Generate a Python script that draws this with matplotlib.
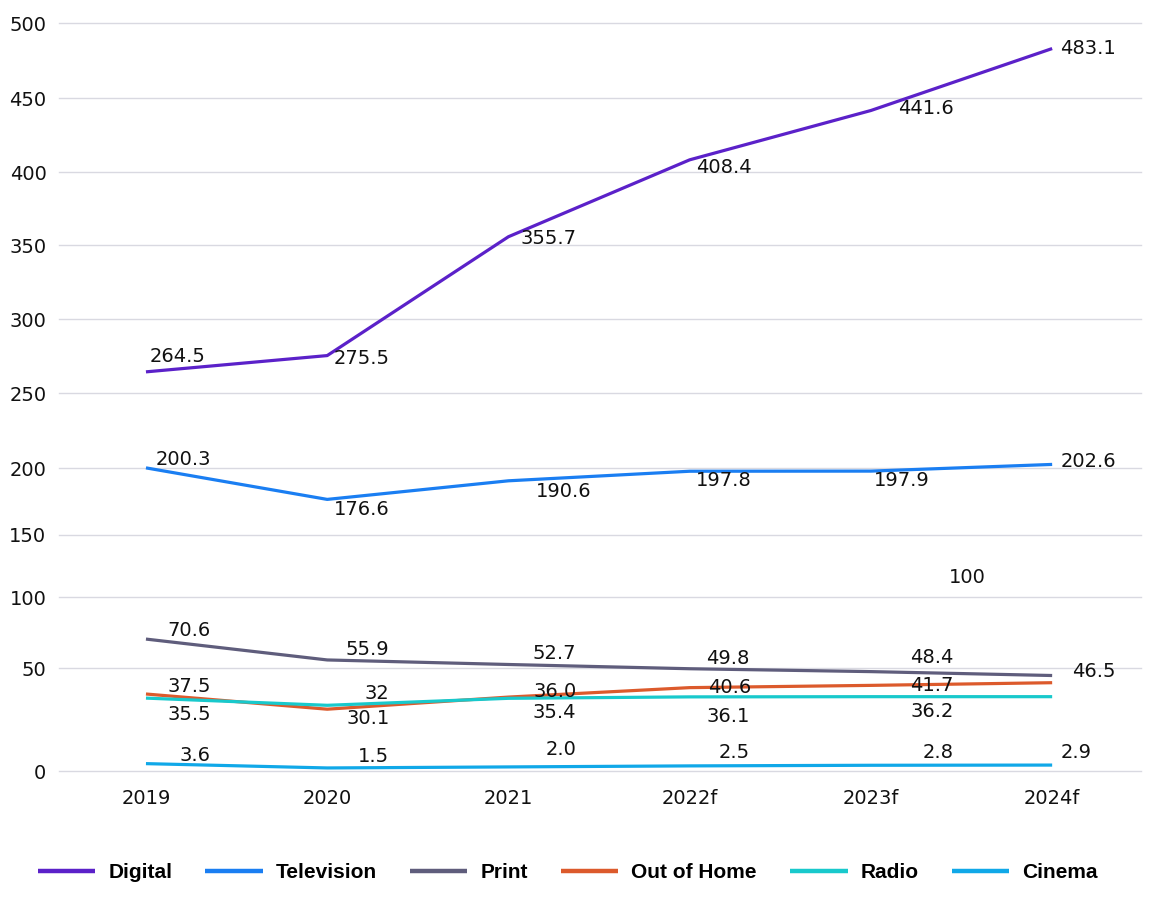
import numpy as np
import matplotlib
matplotlib.use("Agg")
import matplotlib.pyplot as plt

# data
years = ["2019", "2020", "2021", "2022f", "2023f", "2024f"]
digital = [264.5, 275.5, 355.7, 408.4, 441.6, 483.1]
television = [200.3, 176.6, 190.6, 197.8, 197.9, 202.6]
print_media = [70.6, 55.9, 52.7, 49.8, 48.4, 46.5]
out_of_home = [37.5, 30.1, 36.0, 40.6, 41.7, 43.0]
radio = [35.5, 32.0, 35.4, 36.1, 36.2, 36.2]
cinema = [3.6, 1.5, 2.0, 2.5, 2.8, 2.9]

# which points carry a value label (text as printed in the chart)
digital_labels = ["264.5", "275.5", "355.7", "408.4", "441.6", "483.1"]
television_labels = ["200.3", "176.6", "190.6", "197.8", "197.9", "202.6"]
print_labels = ["70.6", "55.9", "52.7", "49.8", "48.4", "46.5"]
ooh_labels = ["37.5", "30.1", "36.0", "40.6", "41.7", None]
radio_labels = ["35.5", "32", "35.4", "36.1", "36.2", None]
cinema_labels = ["3.6", "1.5", "2.0", "2.5", "2.8", "2.9"]

y_ticks = [0, 50, 100, 150, 200, 250, 300, 350, 400, 450, 500]

# the value axis in the original is not evenly spaced below 200;
# tick spacing (in pixels)
tick_space = [0, 102.7, 173.7, 236.3, 302.7, 377.7, 451.7, 526, 598.7, 673, 747.7]

colors = {
    "Digital": "#5b21c9",
    "Television": "#1a7ef2",
    "Print": "#5f5d7c",
    "Out of Home": "#dc5a2c",
    "Radio": "#18c9cc",
    "Cinema": "#10a8e8",
}

# label offsets (right edge dx, centre dy) in pixels from each point
offsets = {
    "Digital": [(60, 15), (62, -3), (68, -2), (62, -8), (83, 2), (64, 0)],
    "Television": [(65, 8), (62, -10), (83, -11), (62, -9), (59, -9), (64, 3)],
    "Print": [(65, 9), (62, 10), (68, 11), (60, 10), (83, 14), (63, 4)],
    "Out of Home": [(65, 8), (63, -9), (68, 6), (62, 0), (83, 0), None],
    "Radio": [(65, -16), (62, 12), (68, -14), (60, -20), (83, -15), None],
    "Cinema": [(65, 8), (62, 11), (68, 17), (60, 13), (83, 13), (39, 13)],
}


def fwd(v):
    return np.interp(v, y_ticks, tick_space)


def inv(p):
    return np.interp(p, tick_space, y_ticks)


fig = plt.figure(figsize=(11.54, 9.0), dpi=100)
ax = fig.add_axes([0.0511, 0.1433, 0.9376, 0.8308])
ax.set_yscale("function", functions=(fwd, inv))

x = np.arange(len(years))
series = [
    ("Digital", digital, digital_labels),
    ("Television", television, television_labels),
    ("Print", print_media, print_labels),
    ("Out of Home", out_of_home, ooh_labels),
    ("Radio", radio, radio_labels),
    ("Cinema", cinema, cinema_labels),
]

for name, vals, labs in series:
    ax.plot(x, vals, color=colors[name], lw=2.3, label=name,
            solid_capstyle="butt", zorder=3, clip_on=False)
    for i, (v, lab) in enumerate(zip(vals, labs)):
        if lab is None:
            continue
        dx, dy = offsets[name][i]
        ax.annotate(lab, (x[i], v), xytext=(dx, dy), textcoords="offset pixels",
                    ha="right", va="center", fontsize=14, color="#111111",
                    zorder=4, annotation_clip=False)

# stray label that sits in the original
ax.text(4.43, 116, "100", fontsize=14, color="#111111", va="center")

ax.set_xlim(-0.48, 5.49)
ax.set_ylim(0, 500)
ax.set_xticks(x)
ax.set_xticklabels(years)
ax.set_yticks(y_ticks)
ax.tick_params(axis="both", length=0, labelsize=14, colors="#111111")
ax.tick_params(axis="x", pad=13)
ax.tick_params(axis="y", pad=9)
ax.grid(axis="y", color="#d9d9e1", lw=1)
for gl in ax.get_ygridlines():
    gl.set_clip_on(False)
ax.set_axisbelow(True)
for s in ax.spines.values():
    s.set_visible(False)

leg = fig.legend(loc="center", bbox_to_anchor=(0.492, 0.03), ncol=6,
                 frameon=False, handlelength=2.75, handletextpad=0.62,
                 columnspacing=1.6,
                 prop={"family": ["Liberation Sans", "DejaVu Sans"],
                       "weight": "bold", "size": 15})
for h in leg.get_lines():
    h.set_linewidth(3.2)

fig.savefig("out.png", dpi=100)
